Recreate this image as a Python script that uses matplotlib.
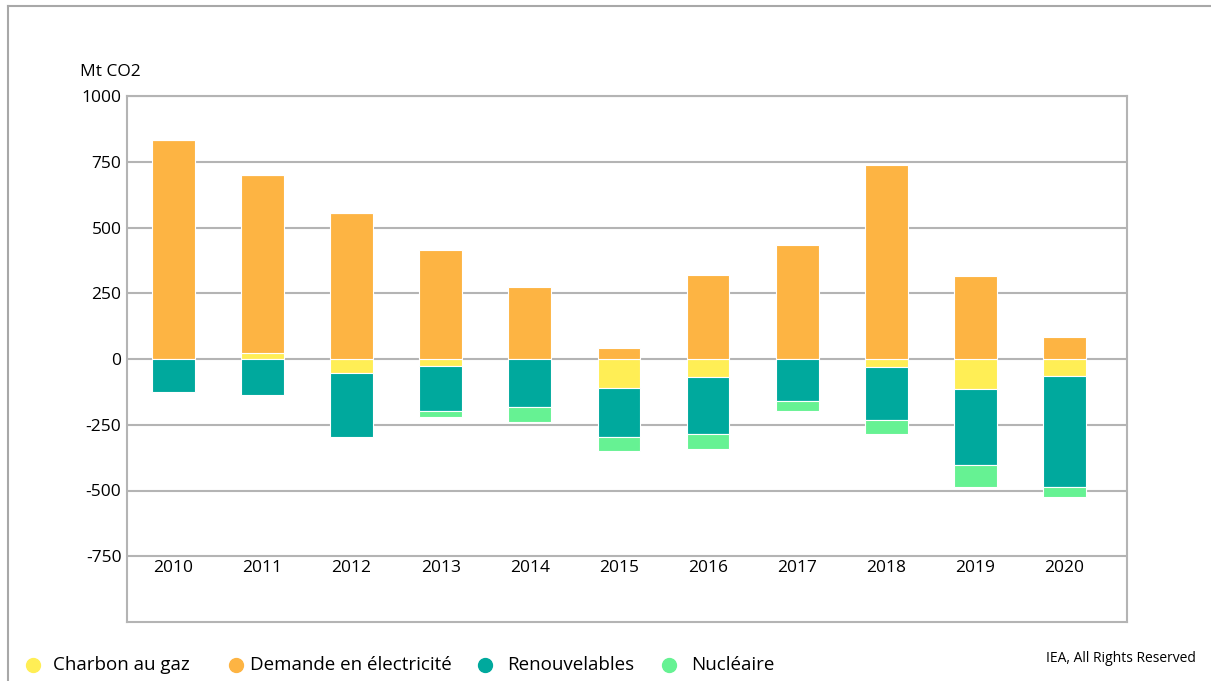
import matplotlib
matplotlib.use("Agg")
import matplotlib.pyplot as plt
from matplotlib.lines import Line2D
import numpy as np

years = ["2010", "2011", "2012", "2013", "2014", "2015", "2016", "2017", "2018", "2019", "2020"]
charbon = [0, 22, -53, -28, 0, -110, -68, 0, -30, -114, -65]
demande = [833, 677, 556, 415, 274, 42, 320, 434, 736, 316, 84]
renouv = [-125, -137, -244, -168, -183, -187, -217, -160, -202, -289, -422]
nucleaire = [0, 0, 0, -26, -57, -53, -57, -38, -53, -84, -38]

series = [charbon, demande, renouv, nucleaire]
labels = ["Charbon au gaz", "Demande en électricité", "Renouvelables", "Nucléaire"]
colors = ["#FFEE55", "#FDB443", "#00A99D", "#66F293"]

plt.rcParams['font.family'] = ['Open Sans', 'DejaVu Sans']

W, H = 1211, 681
fig = plt.figure(figsize=(W / 100, H / 100), dpi=100)
ax = fig.add_axes([127 / W, 1 - 622 / H, 1000 / W, 526 / H])

x = np.arange(len(years))
pos_bottom = np.zeros(len(years))
neg_bottom = np.zeros(len(years))
for vals, col in zip(series, colors):
    v = np.array(vals, dtype=float)
    bottom = np.where(v >= 0, pos_bottom, neg_bottom)
    ax.bar(x, v, width=0.48, bottom=bottom, color=col, edgecolor="white",
           linewidth=0.8, zorder=3)
    pos_bottom += np.where(v > 0, v, 0)
    neg_bottom += np.where(v < 0, v, 0)

ax.set_xlim(-0.52, 10.70)
ax.set_ylim(-1000, 1000)
ax.set_yticks([1000, 750, 500, 250, 0, -250, -500, -750])
ax.set_yticklabels(["1000", "750", "500", "250", "0", "-250", "-500", "-750"])
ax.tick_params(axis="y", length=0, pad=4, labelsize=12.5)
ax.set_xticks([])
ax.grid(axis="y", color="#b4b4b4", linewidth=1.5, zorder=0)
for s in ax.spines.values():
    s.set_color("#b4b4b4")
    s.set_linewidth(1.5)

for i, yr in enumerate(years):
    ax.text(i, -765, yr, ha="center", va="top", fontsize=12.5, color="black")

fig.text(80 / W, 1 - 72 / H, "Mt CO2", fontsize=12.5, va="center", ha="left")

# outer frame
fig.add_artist(Line2D([8 / W, 8 / W], [0, 1 - 6 / H], color="#a8a8a8", lw=1.5))
fig.add_artist(Line2D([8 / W, 1], [1 - 6 / H, 1 - 6 / H], color="#a8a8a8", lw=1.5))

# legend
mark_x = [33, 236, 485, 669]
text_x = [53, 250, 507, 691]
for mx, tx, lab, col in zip(mark_x, text_x, labels, colors):
    fig.add_artist(Line2D([mx / W], [1 - 665 / H], marker="o", markersize=10,
                          color=col, linestyle="none"))
    fig.text(tx / W, 1 - 665 / H, lab, fontsize=13.5, va="center", ha="left")

fig.text(1196 / W, 1 - 659 / H, "IEA, All Rights Reserved", fontsize=10,
         va="center", ha="right")

fig.savefig("out.png", dpi=100)
